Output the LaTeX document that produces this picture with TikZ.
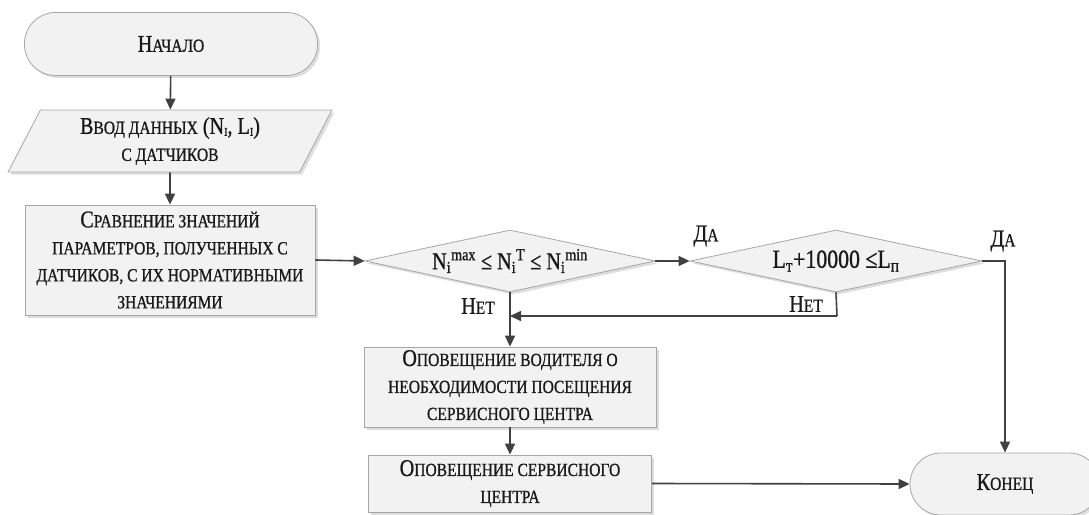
\documentclass[tikz,border=0pt]{standalone}
\usepackage{fontspec}
\setmainfont{Liberation Serif}[FakeStretch=0.84, FakeBold=0.9]
\usetikzlibrary{shapes.geometric,shadows,arrows.meta,calc}
\newcommand\sm[1]{{\fontsize{18.5}{27}\selectfont #1}}
\definecolor{ln}{HTML}{404040}
\definecolor{bx}{HTML}{F2F2F2}
\tikzset{
  base/.style={draw=gray!70, line width=0.8pt, fill=bx, text=black!90, align=center,
    font=\fontsize{24}{27}\selectfont, inner sep=2pt,
    drop shadow={shadow xshift=2.5pt, shadow yshift=-2.5pt, fill=gray!45, opacity=0.6}},
  term/.style={base, rounded corners=31pt, minimum height=63pt},
  proc/.style={base, rectangle},
  dec/.style={base, diamond, aspect=4.7, inner sep=0pt},
  io/.style={base, trapezium, trapezium left angle=66, trapezium right angle=114,
    trapezium stretches=true},
  conn/.style={draw=ln, line width=1.6pt, -{Triangle[length=11pt,width=10pt]}},
  lineonly/.style={draw=ln, line width=1.6pt},
  lbl/.style={font=\fontsize{24}{24}\selectfont, text=black!90, inner sep=0pt}
}
\begin{document}
\begin{tikzpicture}[x=1pt,y=-1pt]
\useasboundingbox (0,0) rectangle (1089,514);
\node[term, minimum width=293pt] (start) at (171,44) {Н\sm{АЧАЛО}};
\node[io, minimum width=324pt, minimum height=62pt] (inp) at (170,141)
  {В\sm{ВОД ДАННЫХ} (N{\fontsize{12}{12}\selectfont\raisebox{-2pt}{I}}, L{\fontsize{12}{12}\selectfont\raisebox{-2pt}{I}})\\\sm{С ДАТЧИКОВ}};
\node[proc, minimum width=290pt, minimum height=110pt] (cmp) at (170,260)
  {С\sm{РАВНЕНИЕ ЗНАЧЕНИЙ}\\\sm{ПАРАМЕТРОВ, ПОЛУЧЕННЫХ С}\\\sm{ДАТЧИКОВ, С ИХ НОРМАТИВНЫМИ}\\\sm{ЗНАЧЕНИЯМИ}};
\node[dec, minimum width=290pt, minimum height=62pt] (d1) at (510,261)
  {N\textsubscript{i}\textsuperscript{max} ≤ N\textsubscript{i}\textsuperscript{T} ≤ N\textsubscript{i}\textsuperscript{min}};
\node[dec, minimum width=292pt, minimum height=62pt, font=\fontsize{26}{27}\selectfont] (d2) at (836,261)
  {L\textsubscript{т}+10000 ≤L\textsubscript{п}};
\node[proc, minimum width=292pt, minimum height=80pt] (b2) at (510,387)
  {О\sm{ПОВЕЩЕНИЕ ВОДИТЕЛЯ О}\\\sm{НЕОБХОДИМОСТИ ПОСЕЩЕНИЯ}\\\sm{СЕРВИСНОГО ЦЕНТРА}};
\node[proc, minimum width=283pt, minimum height=57pt] (b3) at (510,483.5)
  {О\sm{ПОВЕЩЕНИЕ СЕРВИСНОГО}\\\sm{ЦЕНТРА}};
\node[term, minimum width=190pt, minimum height=62pt] (end) at (1005,484) {К\sm{ОНЕЦ}};

\coordinate (c1) at (1005,261);
\coordinate (c2) at (837,316);
\coordinate (j) at (510,316);

\draw[conn] (start) -- (inp);
\draw[conn] (inp) -- (cmp);
\draw[conn] (cmp.east) -- (d1.west);
\draw[conn] (d1.east) -- (d2.west);
\draw[conn] (d2.east) -- (c1) -- (end.north);
\draw[lineonly] (d2.south) -- (c2);
\draw[conn] (c2) -- (j);
\draw[conn] (d1.south) -- (b2.north);
\draw[conn] (b2) -- (b3);
\draw[conn] (b3.east) -- (end.west);

\node[lbl] (yes1) at (706,236) {Д\sm{А}};
\node[lbl] (yes2) at (1003,241) {Д\sm{А}};
\node[lbl] (no1) at (478,306) {Н\sm{ЕТ}};
\node[lbl] (no2) at (806,304) {Н\sm{ЕТ}};
\end{tikzpicture}
\end{document}
